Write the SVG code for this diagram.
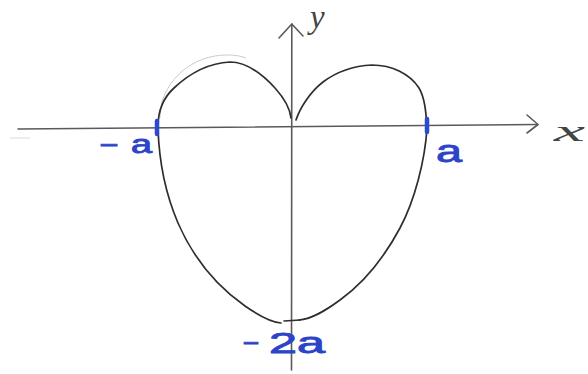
<svg xmlns="http://www.w3.org/2000/svg" width="588" height="374" viewBox="0 0 588 374">
<style>
.axis{fill:none;stroke:#5a5a5a;stroke-width:1.6;stroke-linecap:round;stroke-linejoin:round}
.curve{fill:none;stroke:#2e2e2e;stroke-width:1.7;stroke-linecap:round;stroke-linejoin:round}
.faint{fill:none;stroke:#c4c4c4;stroke-width:0.9}
.mark{fill:none;stroke:#2c4ad0;stroke-width:4.5;stroke-linecap:round}
.blue{fill:#2c44c8;stroke:#2c44c8;stroke-width:0.9;font-family:"Liberation Sans",Arial,sans-serif}
.lab{fill:#444444;font-family:"Liberation Serif","Times New Roman",serif;font-style:italic}
</style>
<rect width="588" height="374" fill="#ffffff"/>
<g id="axes">
  <path class="axis" d="M18,129 L538,124.5"/>
  <path class="axis" d="M527,115 L538,124.5 L527,133"/>
  <path class="axis" d="M291.5,370 L291.8,24"/>
  <path class="axis" d="M279,38 L291.8,24 L303,36"/>
  <path d="M10,138 L30,138" stroke="#d0d0d0" stroke-width="0.8"/>
</g>
<g id="curve">
  <path class="faint" d="M160,118 C159,92 180,62 215,56 C228,54 238,55 246,58"/>
  <path class="curve" d="M158,127 C158,110 164,97 174,88 C190,73 210,63 230,62 C248,62 264,76 275,88 C284,98 290,108 291,118"/>
  <path class="curve" d="M296,120 C300,108 310,92 323,82 C335,73 352,66 372,65 C392,65 410,74 419,88 C425,98 426,113 427,127"/>
  <path class="curve" d="M158,128 C159,160 166,195 178,223 C192,255 215,285 245,306 C258,315 270,322 281,323"/>
  <path class="curve" d="M427,128 C425,160 415,200 400,228 C385,256 365,282 340,300 C325,311 312,319 299,320"/>
  <path class="curve" d="M284,321 L300,320"/>
</g>
<g id="marks">
  <path class="mark" d="M157,121 L157,134"/>
  <path class="mark" d="M427,119 L427,132"/>
</g>
<g id="labels">
  <text class="blue" x="101" y="152" font-size="28" textLength="16" lengthAdjust="spacingAndGlyphs">–</text>
  <text class="blue" x="131" y="153" font-size="25" textLength="21" lengthAdjust="spacingAndGlyphs">a</text>
  <text class="blue" x="436" y="162" font-size="32" textLength="26" lengthAdjust="spacingAndGlyphs">a</text>
  <text class="blue" x="244" y="350" font-size="28" textLength="14" lengthAdjust="spacingAndGlyphs">–</text>
  <text class="blue" x="269" y="353" font-size="29" textLength="56" lengthAdjust="spacingAndGlyphs">2a</text>
  <text class="lab" x="554" y="141" font-size="30" textLength="31" lengthAdjust="spacingAndGlyphs">x</text>
  <text class="lab" x="310" y="28" font-size="33">y</text>
</g>
</svg>
